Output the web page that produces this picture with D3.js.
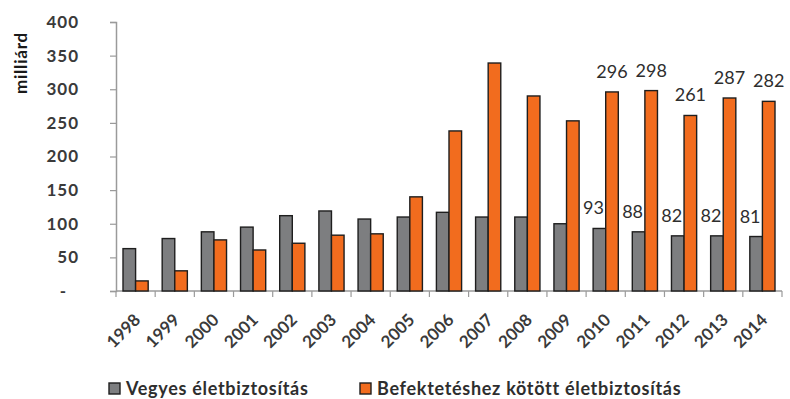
<!DOCTYPE html>
<html>
<head>
<meta charset="utf-8">
<script src="https://cdn.jsdelivr.net/npm/d3@7"></script>
<style>
  html, body { margin: 0; padding: 0; background: #fff; }
  svg { display: block; font-family: Lato, "Open Sans", sans-serif; }
</style>
</head>
<body>
<svg id="chart" width="790" height="399"></svg>
<script>
// Életbiztosítási díjbevétel, milliárd Ft
const years = ["1998","1999","2000","2001","2002","2003","2004","2005","2006",
               "2007","2008","2009","2010","2011","2012","2013","2014"];
const vegyes = [63, 78, 88, 95, 112, 119, 107, 110, 117, 110, 110, 100, 93, 88, 82, 82, 81];
const befektetes = [15, 30, 76, 61, 71, 83, 85, 140, 238, 339, 290, 253, 296, 298, 261, 287, 282];
const seriesNames = ["Vegyes életbiztosítás", "Befektetéshez kötött életbiztosítás"];
const yTicks = [0, 50, 100, 150, 200, 250, 300, 350, 400];
const labelledYears = ["2010","2011","2012","2013","2014"];

const colors = ["#7d7e80", "#f26c1e"];
const outline = "#1e1e1e";
const textColor = "#3a3a3a";

const svg = d3.select("#chart");
const plotLeft = 116, plotRight = 782, plotTop = 22, plotBottom = 291;

const x = d3.scaleBand().domain(years).range([plotLeft, plotRight]).paddingInner(0).paddingOuter(0);
const inner = d3.scaleBand().domain([0, 1]).range([7, x.bandwidth() - 7]).padding(0);
const y = d3.scaleLinear().domain([0, 400]).range([plotBottom, plotTop]);

// y axis
const yAxis = d3.axisLeft(y).tickValues(yTicks).tickSize(6).tickPadding(32)
  .tickFormat(d => d === 0 ? "-" : d);
const gy = svg.append("g").attr("transform", `translate(${plotLeft},0)`).call(yAxis);
gy.select(".domain").attr("stroke", "#9a9a9a").attr("stroke-width", 1.5);
gy.selectAll(".tick line").attr("stroke", "#9a9a9a").attr("stroke-width", 1.2);
gy.selectAll(".tick text")
  .attr("fill", textColor).attr("font-size", 17).attr("font-weight", 700)
  .attr("font-family", "Lato, sans-serif")
  .attr("letter-spacing", 1)
  .attr("x", d => d === 0 ? -49 : -37);

// x axis with ticks on band boundaries
const gx = svg.append("g");
gx.append("line").attr("x1", plotLeft).attr("x2", plotRight).attr("y1", plotBottom).attr("y2", plotBottom)
  .attr("stroke", "#9a9a9a").attr("stroke-width", 1.5);
const boundaries = years.map(d => x(d)).concat([plotRight]);
gx.selectAll("line.tk").data(boundaries).join("line").attr("class", "tk")
  .attr("x1", d => d).attr("x2", d => d).attr("y1", plotBottom).attr("y2", plotBottom + 6)
  .attr("stroke", "#9a9a9a").attr("stroke-width", 1.2);
gx.selectAll("text").data(years).join("text")
  .attr("transform", d => `translate(${x(d) + x.bandwidth() / 2 + 6},${plotBottom + 30}) rotate(-45)`)
  .attr("text-anchor", "end")
  .attr("fill", textColor).attr("font-size", 17).attr("font-weight", 700)
  .text(d => d);

// y axis title
svg.append("text")
  .attr("transform", `translate(27,63) rotate(-90)`)
  .attr("text-anchor", "middle")
  .attr("fill", "#1a1a1a").attr("font-size", 17).attr("font-weight", 700)
  .attr("letter-spacing", 0.8)
  .text("milliárd");

// bars
const series = [vegyes, befektetes];
series.forEach((vals, si) => {
  svg.append("g").selectAll("rect").data(years).join("rect")
    .attr("x", d => x(d) + inner(si))
    .attr("y", (d, i) => y(vals[i]))
    .attr("width", inner.bandwidth())
    .attr("height", (d, i) => plotBottom - y(vals[i]))
    .attr("fill", colors[si])
    .attr("stroke", outline).attr("stroke-width", 1.4);
});

// value labels for the last five years
series.forEach((vals, si) => {
  const shift = si === 0 ? -6 : 0;
  svg.append("g").selectAll("text")
    .data(years.map((d, i) => ({ year: d, v: vals[i] })).filter(o => labelledYears.includes(o.year)))
    .join("text")
    .attr("x", o => x(o.year) + inner(si) + inner.bandwidth() / 2 + shift)
    .attr("y", o => y(o.v) - 14)
    .attr("text-anchor", "middle")
    .attr("fill", "#2e2e2e").attr("font-size", 18)
    .text(o => o.v);
});

// legend
const legendItems = [{ x: 109, name: seriesNames[0], c: colors[0] },
                     { x: 360, name: seriesNames[1], c: colors[1] }];
const lg = svg.append("g");
legendItems.forEach(it => {
  lg.append("rect").attr("x", it.x).attr("y", 383).attr("width", 11).attr("height", 11)
    .attr("fill", it.c).attr("stroke", outline).attr("stroke-width", 1.4);
  lg.append("text").attr("x", it.x + 17).attr("y", 394.5)
    .attr("fill", "#2e2e2e").attr("font-size", 18).attr("font-weight", 700)
    .attr("letter-spacing", 0.7)
    .text(it.name);
});
</script>
</body>
</html>
